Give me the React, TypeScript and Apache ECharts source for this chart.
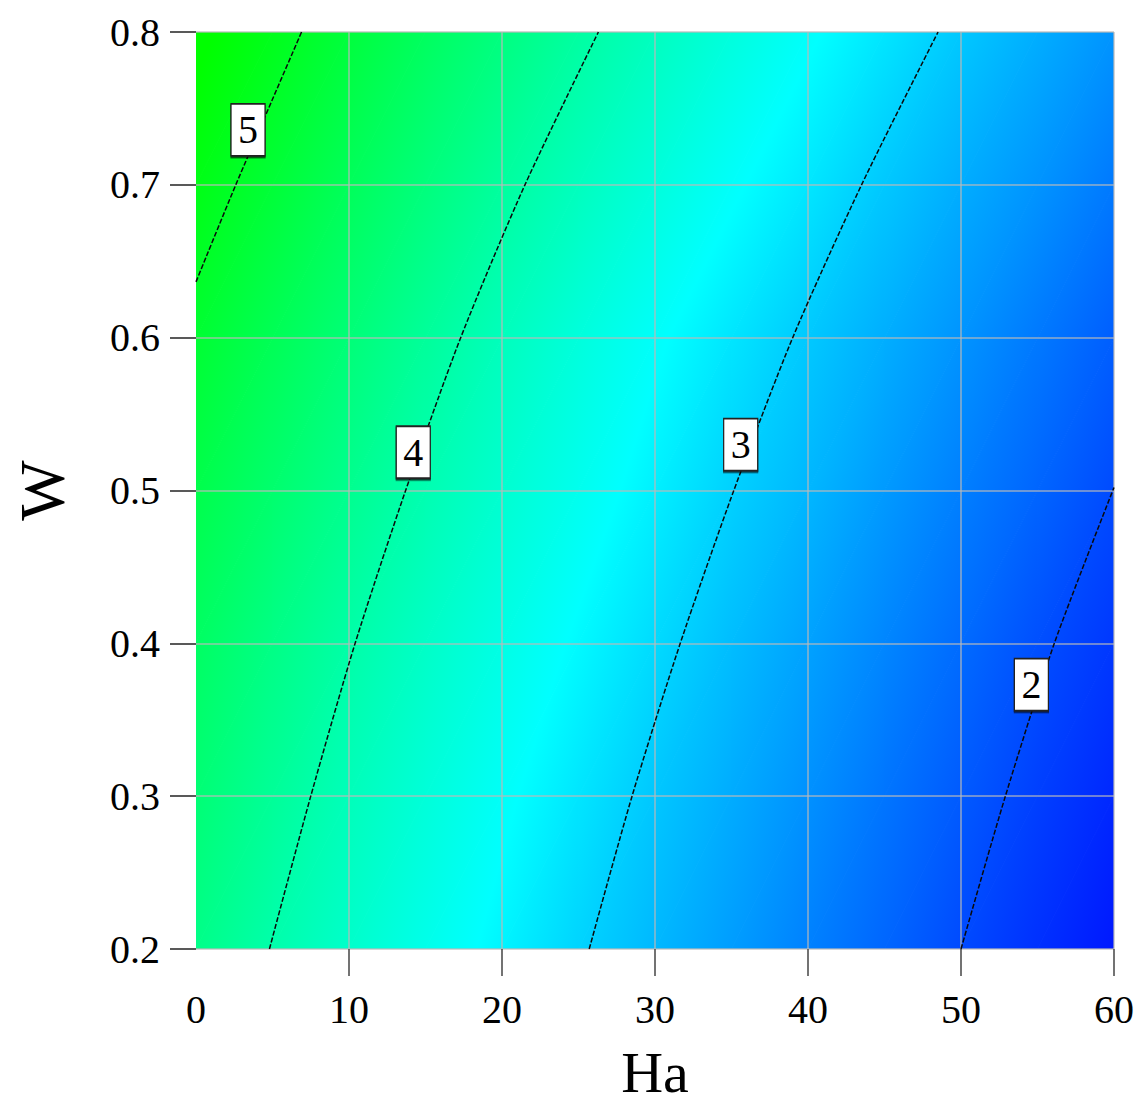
import React, { useEffect, useRef } from "react";
import * as echarts from "echarts";

// Grid of the field (rows: W, columns: Ha)
const haValues = [0, 5, 10, 15, 20, 25, 30, 35, 40, 45, 50, 55, 60];
const wValues = [0.2, 0.3, 0.4, 0.5, 0.6, 0.7, 0.8];

const fieldW020 = [4.26, 3.99, 3.75, 3.51, 3.27, 3.03, 2.82, 2.62, 2.41, 2.21, 2.0, 1.81, 1.63];
const fieldW030 = [4.41, 4.14, 3.88, 3.64, 3.4, 3.16, 2.93, 2.73, 2.53, 2.32, 2.12, 1.92, 1.74];
const fieldW040 = [4.55, 4.28, 4.02, 3.78, 3.55, 3.31, 3.08, 2.86, 2.66, 2.45, 2.25, 2.04, 1.86];
const fieldW050 = [4.73, 4.47, 4.21, 3.95, 3.71, 3.48, 3.24, 3.01, 2.81, 2.6, 2.4, 2.2, 2.0];
const fieldW060 = [4.92, 4.65, 4.39, 4.12, 3.86, 3.62, 3.39, 3.16, 2.95, 2.75, 2.55, 2.35, 2.15];
const fieldW070 = [5.14, 4.88, 4.61, 4.35, 4.09, 3.85, 3.62, 3.39, 3.17, 2.94, 2.74, 2.55, 2.35];
const fieldW080 = [5.36, 5.1, 4.84, 4.58, 4.33, 4.07, 3.84, 3.61, 3.39, 3.16, 2.94, 2.75, 2.55];
const fieldRows = [fieldW020, fieldW030, fieldW040, fieldW050, fieldW060, fieldW070, fieldW080];

// Contour lines (Ha, W)
const contour2 = [[50.0, 0.2], [52.9, 0.3], [56.1, 0.4], [60.0, 0.502]];
const contour3 = [[25.7, 0.2], [28.5, 0.3], [31.65, 0.4], [35.15, 0.5], [39.0, 0.6], [43.5, 0.7], [48.5, 0.8]];
const contour4 = [[4.8, 0.2], [7.5, 0.3], [10.4, 0.4], [13.7, 0.5], [17.3, 0.6], [21.5, 0.7], [26.3, 0.8]];
const contour5 = [[0, 0.6365], [2.6, 0.7], [6.9, 0.8]];

// Contour labels
const labelHa = [3.4, 14.2, 35.6, 54.6];
const labelW = [0.736, 0.525, 0.53, 0.373];
const labelText = ["5", "4", "3", "2"];

const xTicks = [0, 10, 20, 30, 40, 50, 60];

// colour map: value -> rgb
const cmapValues = [1.45, 3.35, 5.3];
const cmapColors = [
  [0, 0, 255],
  [0, 255, 255],
  [0, 255, 0],
];

const FONT = "Liberation Serif";

function colorAt(v: number): string {
  let c: number[];
  if (v <= cmapValues[0]) c = cmapColors[0];
  else if (v >= cmapValues[cmapValues.length - 1]) c = cmapColors[cmapColors.length - 1];
  else {
    let i = 0;
    while (v > cmapValues[i + 1]) i++;
    const t = (v - cmapValues[i]) / (cmapValues[i + 1] - cmapValues[i]);
    c = cmapColors[i].map((a, k) => a + (cmapColors[i + 1][k] - a) * t);
  }
  return `rgb(${Math.round(c[0])},${Math.round(c[1])},${Math.round(c[2])})`;
}

function triFill(p: number[][], v: number[]): any {
  const [x0, y0] = p[0];
  const [x1, y1] = p[1];
  const [x2, y2] = p[2];
  const dx1 = x1 - x0, dy1 = y1 - y0, dx2 = x2 - x0, dy2 = y2 - y0;
  const dv1 = v[1] - v[0], dv2 = v[2] - v[0];
  const det = dx1 * dy2 - dx2 * dy1;
  const lo = Math.min(v[0], v[1], v[2]);
  const hi = Math.max(v[0], v[1], v[2]);
  if (Math.abs(det) < 1e-9 || hi - lo < 1e-9) return colorAt(v[0]);
  const a = (dv1 * dy2 - dv2 * dy1) / det;
  const b = (dx1 * dv2 - dx2 * dv1) / det;
  const g2 = a * a + b * b;
  if (g2 < 1e-14) return colorAt(v[0]);
  const cx = (x0 + x1 + x2) / 3, cy = (y0 + y1 + y2) / 3, fc = (v[0] + v[1] + v[2]) / 3;
  const sx = cx + (a * (lo - fc)) / g2, sy = cy + (b * (lo - fc)) / g2;
  const ex = cx + (a * (hi - fc)) / g2, ey = cy + (b * (hi - fc)) / g2;
  const stops: any[] = [{ offset: 0, color: colorAt(lo) }];
  cmapValues.forEach((cv) => {
    if (cv > lo && cv < hi) stops.push({ offset: (cv - lo) / (hi - lo), color: colorAt(cv) });
  });
  stops.push({ offset: 1, color: colorAt(hi) });
  return { type: "linear", x: sx, y: sy, x2: ex, y2: ey, global: true, colorStops: stops };
}

export default function App() {
  const ref = useRef<HTMLDivElement>(null);
  useEffect(() => {
    if (!ref.current) return;
    const chart = echarts.init(ref.current, undefined, { renderer: "svg" });

    const cells: number[][] = [];
    for (let r = 0; r < wValues.length - 1; r++)
      for (let c = 0; c < haValues.length - 1; c++) cells.push([c, r]);

    const contourLine = (data: number[][]) => ({
      type: "line",
      data,
      smooth: 0.25,
      symbol: "none",
      z: 6,
      silent: true,
      lineStyle: { color: "#0a0a0a", width: 1.5, type: [5, 2] },
    });

    const option: any = {
      animation: false,
      grid: { left: 196, top: 32, width: 918, height: 917, outerBoundsMode: "none", containLabel: false },
      xAxis: {
        type: "value",
        min: 0,
        max: 60,
        interval: 10,
        z: 5,
        name: "Ha",
        nameLocation: "middle",
        nameGap: 95,
        nameTextStyle: { fontSize: 58, lineHeight: 56, fontFamily: FONT, color: "#000" },
        axisLine: { show: false },
        axisTick: {
          show: true,
          length: 27,
          lineStyle: { color: "#444", width: 1.5 },
          customValues: xTicks.slice(1),
        },
        axisLabel: {
          fontSize: 40,
          fontFamily: FONT,
          color: "#000",
          margin: 40,
          customValues: xTicks,
        },
        splitLine: { show: true, lineStyle: { color: "rgba(185,185,185,0.8)", width: 1.5 } },
      },
      yAxis: {
        type: "value",
        min: 0.2,
        max: 0.8,
        interval: 0.1,
        z: 5,
        name: "W",
        nameLocation: "middle",
        nameRotate: 90,
        nameGap: 122,
        nameTextStyle: { fontSize: 64, fontFamily: FONT, color: "#000" },
        axisLine: { show: false },
        axisTick: { show: true, length: 26, lineStyle: { color: "#222", width: 1.5 } },
        axisLabel: {
          fontSize: 40,
          fontFamily: FONT,
          color: "#000",
          margin: 36,
          formatter: (v: number) => v.toFixed(1),
        },
        splitLine: { show: true, lineStyle: { color: "rgba(185,185,185,0.8)", width: 1.5 } },
      },
      series: [
        {
          type: "custom",
          z: 1,
          silent: true,
          clip: true,
          data: cells,
          renderItem: (params: any, api: any) => {
            const c = api.value(0);
            const r = api.value(1);
            const bl = api.coord([haValues[c], wValues[r]]);
            const br = api.coord([haValues[c + 1], wValues[r]]);
            const tr = api.coord([haValues[c + 1], wValues[r + 1]]);
            const tl = api.coord([haValues[c], wValues[r + 1]]);
            const vbl = fieldRows[r][c];
            const vbr = fieldRows[r][c + 1];
            const vtr = fieldRows[r + 1][c + 1];
            const vtl = fieldRows[r + 1][c];
            const f1 = triFill([bl, br, tr], [vbl, vbr, vtr]);
            const f2 = triFill([bl, tr, tl], [vbl, vtr, vtl]);
            return {
              type: "group",
              children: [
                {
                  type: "polygon",
                  shape: { points: [bl, br, tr] },
                  style: { fill: f1, stroke: f1, lineWidth: 1 },
                },
                {
                  type: "polygon",
                  shape: { points: [bl, tr, tl] },
                  style: { fill: f2, stroke: f2, lineWidth: 1 },
                },
              ],
            };
          },
        },
        contourLine(contour2),
        contourLine(contour3),
        contourLine(contour4),
        contourLine(contour5),
        {
          type: "scatter",
          z: 8,
          silent: true,
          symbol: "rect",
          symbolSize: [34, 52],
          itemStyle: {
            color: "#fff",
            borderColor: "#222",
            borderWidth: 1.5,
            opacity: 1,
            shadowColor: "rgba(0,0,0,0.7)",
            shadowOffsetY: 1.5,
            shadowBlur: 0,
          },
          label: {
            show: true,
            position: "inside",
            formatter: (p: any) => p.data[2],
            fontSize: 40,
            fontFamily: FONT,
            color: "#000",
          },
          data: labelHa.map((h, i) => [h, labelW[i], labelText[i]]),
        },
      ],
    };
    chart.setOption(option);
    return () => chart.dispose();
  }, []);
  return (
    <div
      ref={ref}
      style={{ position: "absolute", left: 0, top: 0, width: 1142, height: 1106, background: "#fff" }}
    />
  );
}
